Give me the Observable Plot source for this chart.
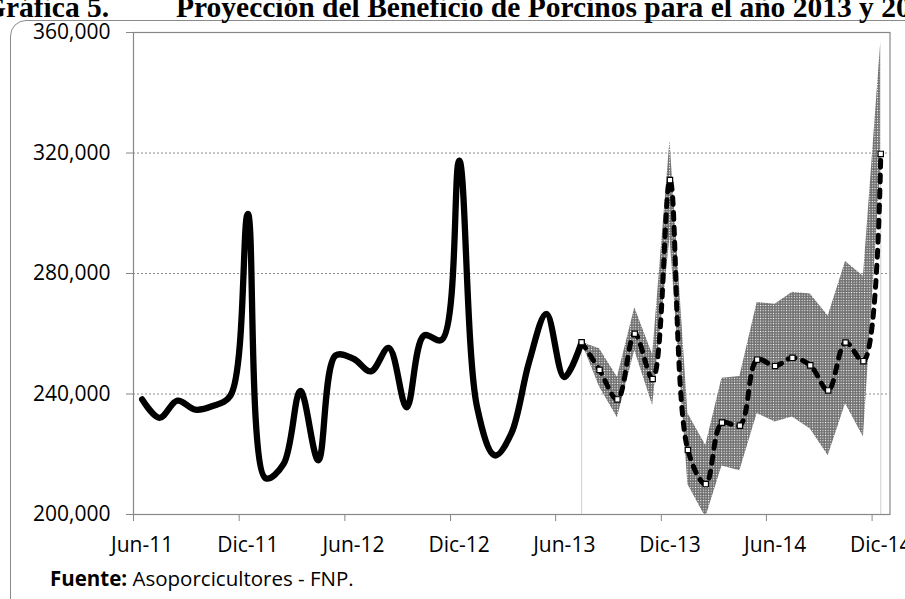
<!DOCTYPE html>
<html><head><meta charset="utf-8">
<script src="https://cdn.jsdelivr.net/npm/d3@7"></script>
<script src="https://cdn.jsdelivr.net/npm/@observablehq/plot@0.6"></script>
<style>
body{margin:0;background:#fff;}
#wrap{position:relative;width:905px;height:599px;overflow:hidden;background:#fff;}
#frame{position:absolute;left:10px;top:20px;width:940px;height:620px;border:1.5px solid #8a8a8a;border-radius:16px;box-sizing:border-box;}
.t{position:absolute;top:-6.7px;font-family:"Liberation Serif",serif;font-weight:bold;font-size:29.5px;white-space:nowrap;line-height:1;color:#000;}
#foot{position:absolute;left:50px;top:568px;font-family:"Open Sans",sans-serif;font-size:20.5px;line-height:1;white-space:nowrap;color:#000;}
#chart{position:absolute;left:0;top:0;}
</style></head>
<body>
<div id="wrap">
  <div id="frame"></div>
  <div class="t" style="left:-17px">Gráfica 5.</div>
  <div class="t" style="left:176px">Proyección del Beneficio de Porcinos para el año 2013 y 2014</div>
  <div id="chart"></div>
  <div id="foot"><b>Fuente:</b> Asoporcicultores - FNP.</div>
</div>
<script>
// ---- data ----
const actualMonths = ["2011-06","2011-07","2011-08","2011-09","2011-10","2011-11","2011-12",
  "2012-01","2012-02","2012-03","2012-04","2012-05","2012-06","2012-07","2012-08","2012-09","2012-10","2012-11","2012-12",
  "2013-01","2013-02","2013-03","2013-04","2013-05","2013-06","2013-07"];
const actualValues = [238200,232100,237800,234800,236000,239500,299800,
  212000,216800,241000,218000,252800,251700,247500,255300,235600,259400,258000,317500,
  235600,219600,226800,250600,266600,245600,257200];

const forecastMonths = ["2013-07","2013-08","2013-09","2013-10","2013-11","2013-12",
  "2014-01","2014-02","2014-03","2014-04","2014-05","2014-06","2014-07","2014-08","2014-09","2014-10","2014-11","2014-12"];
const forecastValues = [257200,248000,238200,260000,245000,311000,
  221400,210100,230500,229500,251400,249300,252000,249500,241200,257100,250900,319700];
const upperValues = [257200,255000,245600,268600,253000,324200,
  233500,222900,245200,245800,270400,269800,273800,273200,265900,284000,279100,356800];
const lowerValues = [257200,242300,232100,254400,236200,292000,
  210000,199000,216100,214500,233500,230700,232400,228400,219500,236800,225700,315000];

const tickMonths = ["2011-06","2011-12","2012-06","2012-12","2013-06","2013-12","2014-06","2014-12"];
const tickLabels = ["Jun-11","Dic-11","Jun-12","Dic-12","Jun-13","Dic-13","Jun-14","Dic-14"];
const yTicks = [200000,240000,280000,320000,360000];
const gridValues = [240000,280000,320000];

// ---- helpers ----
const monthStart = s => { const [y,m] = s.split("-").map(Number); return new Date(Date.UTC(y, m-1, 1)); };
const midMonth = s => { const [y,m] = s.split("-").map(Number); return new Date(Date.UTC(y, m-1, 16)); };

const actual = actualMonths.map((m,i) => ({date: midMonth(m), v: actualValues[i]}));
const forecast = forecastMonths.map((m,i) => ({date: midMonth(m), v: forecastValues[i], hi: upperValues[i], lo: lowerValues[i]}));
const tickDates = tickMonths.map(monthStart);
const labels = tickMonths.map((m,i) => ({date: midMonth(m), label: tickLabels[i]}));
const drops = [forecast[0], forecast[forecast.length-1]];

const W = 905, H = 560;
const chart = Plot.plot({
  width: W, height: H,
  marginLeft: 133, marginRight: 15.5, marginTop: 32, marginBottom: H - 514,
  style: {fontFamily: "Open Sans, sans-serif", fontSize: "21px", background: "transparent", color: "#000"},
  x: {type: "utc", domain: [new Date(Date.UTC(2011,5,1)), new Date(Date.UTC(2015,0,1))]},
  y: {domain: [200000, 360000]},
  marks: [
    Plot.ruleY(gridValues, {stroke: "#8c8c8c", strokeWidth: 1, strokeDasharray: "2,2"}),
    Plot.ruleX(drops, {x: "date", y1: 200000, y2: "v", stroke: "#d0d0d0", strokeWidth: 1}),
    Plot.areaY(forecast, {x: "date", y1: "lo", y2: "hi", fill: "url(#chk)", clip: true}),
    Plot.line(forecast, {x: "date", y: "v", stroke: "#000", strokeWidth: 5, strokeDasharray: "7,8", strokeLinecap: "round", curve: "catmull-rom", clip: true}),
    Plot.line(actual, {x: "date", y: "v", stroke: "#000", strokeWidth: 6.3, strokeLinejoin: "round", curve: "catmull-rom"}),
    Plot.dot(forecast, {x: "date", y: "v", symbol: "square", r: 3, fill: "#fff", stroke: "#000", strokeWidth: 1.2}),
    Plot.frame({stroke: "#878787", strokeWidth: 1.2}),
    Plot.axisY({ticks: yTicks, tickFormat: d3.format(","), tickSize: 7, tickPadding: 16, stroke: "#878787", fill: "#000", fontSize: 21}),
    Plot.axisX({ticks: tickDates, tickSize: 7, tickFormat: () => "", stroke: "#878787"}),
    Plot.text(labels, {x: "date", text: "label", frameAnchor: "bottom", lineAnchor: "top", dy: 22.8, fontSize: 21, fill: "#000"})
  ]
});
document.getElementById("chart").appendChild(chart);

// checkered pattern for the forecast band
const svg = d3.select(chart);
const defs = svg.insert("defs", ":first-child");
const pat = defs.append("pattern").attr("id", "chk").attr("patternUnits", "userSpaceOnUse").attr("width", 2.6).attr("height", 2.6);
pat.append("rect").attr("width", 2.6).attr("height", 2.6).attr("fill", "#6e6e6e");
pat.append("rect").attr("x", 0.8).attr("y", 0.8).attr("width", 1.1).attr("height", 1.1).attr("fill", "#ffffff");
</script>
</body></html>
